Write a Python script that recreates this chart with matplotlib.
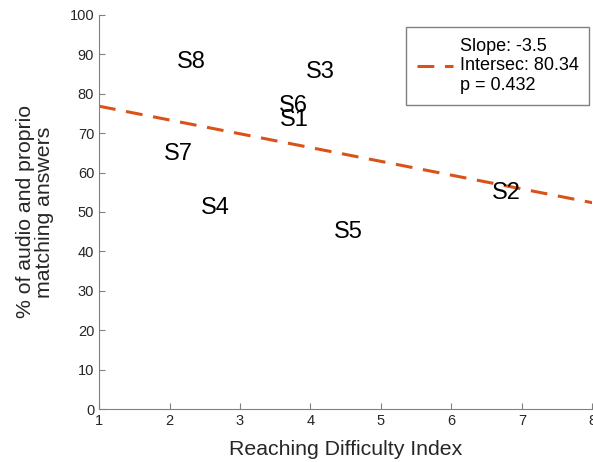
import matplotlib
matplotlib.use('Agg')
import matplotlib.pyplot as plt
import numpy as np

plt.rcParams['font.family'] = ['Liberation Sans', 'DejaVu Sans']

# subject positions (text labels placed at x, y)
subjects = ['S1', 'S2', 'S3', 'S4', 'S5', 'S6', 'S7', 'S8']
difficulty = [3.56, 6.58, 3.94, 2.44, 4.33, 3.55, 1.92, 2.10]
matching = [73.4, 54.8, 85.5, 51.0, 45.0, 77.0, 64.7, 88.1]

slope = -3.5
intersec = 80.34
p_value = 0.432

fig = plt.figure(figsize=(5.93, 4.62), dpi=100)
ax = fig.add_axes([0.167, 0.1147, 0.832, 0.853])

for name, x, y in zip(subjects, difficulty, matching):
    ax.text(x, y, name, fontsize=17, ha='left', va='center', color='black')

xfit = np.array([1, 8])
ax.plot(xfit, intersec + slope * xfit, color='#D95319', lw=2.2,
        dashes=(5.5, 3.5),
        label='Slope: %g\nIntersec: %.2f\np = %.3f' % (slope, intersec, p_value))

ax.set_xlim(1, 8)
ax.set_ylim(0, 100)
ax.set_xticks(range(1, 9))
ax.set_yticks(range(0, 101, 10))
for s in ['top', 'right']:
    ax.spines[s].set_visible(False)
for s in ['left', 'bottom']:
    ax.spines[s].set_color('#808080')
ax.tick_params(direction='in', length=4, color='#808080', labelsize=10.5,
               labelcolor='#262626')
ax.set_xlabel('Reaching Difficulty Index', fontsize=15.3, color='#262626',
              labelpad=9)
ax.set_ylabel('% of audio and proprio\nmatching answers', fontsize=15.3,
              color='#262626', linespacing=1.05, labelpad=11)

leg = ax.legend(loc='upper right', bbox_to_anchor=(0.994, 0.97), fontsize=13,
                fancybox=False, edgecolor='#808080', framealpha=1,
                handlelength=2.0, handletextpad=0.35, borderpad=0.6,
                borderaxespad=0)
leg.get_frame().set_linewidth(1.0)

fig.savefig('out.png', dpi=100)
